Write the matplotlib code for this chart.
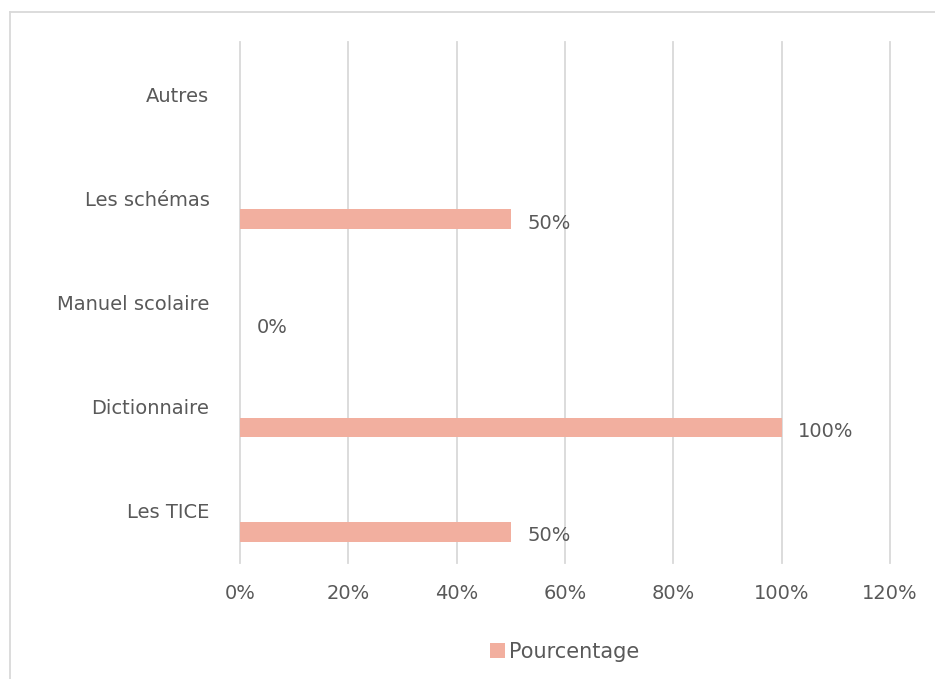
import numpy as np
import matplotlib.pyplot as plt
from matplotlib.lines import Line2D

# données (de bas en haut)
categories = ["Les TICE", "Dictionnaire", "Manuel scolaire", "Les schémas", "Autres"]
pourcentage = [50, 100, 0, 50, np.nan]
x_ticks = [0, 20, 40, 60, 80, 100, 120]

BAR_COLOR  = "#F2AF9F"
TEXT_COLOR = "#595959"
GRID_COLOR = "#D9D9D9"

plt.rcParams['font.family'] = ['DejaVu Sans']

fig = plt.figure(figsize=(9.35, 6.79), dpi=100)
ax = fig.add_axes([240/935, 1 - 563/679, 650/935, 521/679])

y = np.arange(len(categories))
vals = np.nan_to_num(pourcentage)
ax.barh(y - 0.2, vals, height=0.19, color=BAR_COLOR, zorder=3,
        label="Pourcentage")

for yi, v in zip(y, pourcentage):
    if np.isnan(v):
        continue
    ax.text(v + 3.0, yi - 0.24, f"{v:.0f}%", va='center', ha='left',
            fontsize=14, color=TEXT_COLOR)

ax.set_xlim(0, 120)
ax.set_ylim(-0.5, len(categories) - 0.5)
ax.set_xticks(x_ticks)
ax.set_xticklabels([f"{t}%" for t in x_ticks], fontsize=14, color=TEXT_COLOR)
ax.set_yticks(y)
ax.set_yticklabels(categories, fontsize=14, color=TEXT_COLOR)
ax.tick_params(axis='both', length=0)
ax.tick_params(axis='x', pad=15)
ax.tick_params(axis='y', pad=22)
ax.xaxis.grid(True, color=GRID_COLOR, linewidth=1.3, zorder=0)
for gl in ax.get_xgridlines():
    gl.set_clip_on(False)
for s in ax.spines.values():
    s.set_visible(False)

ax.legend(loc='upper center', bbox_to_anchor=(0.5, -0.115), frameon=False,
          handlelength=0.7, handleheight=0.7, handletextpad=0.2,
          prop={'size': 15}, labelcolor=TEXT_COLOR)

# cadre du graphique
fig.add_artist(Line2D([10/935, 1], [1 - 12/679, 1 - 12/679],
                      transform=fig.transFigure, color=GRID_COLOR, lw=1.3))
fig.add_artist(Line2D([10/935, 10/935], [0, 1 - 12/679],
                      transform=fig.transFigure, color=GRID_COLOR, lw=1.3))

fig.savefig("out.png", dpi=100)
